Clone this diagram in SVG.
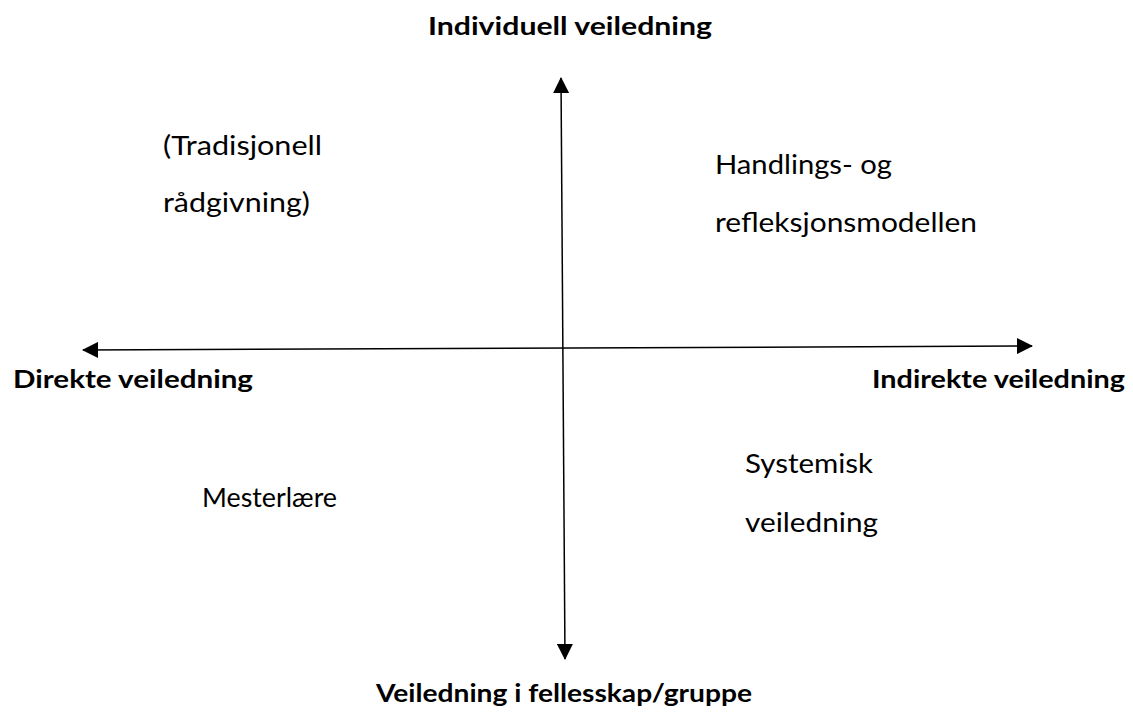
<svg xmlns="http://www.w3.org/2000/svg" width="1133" height="713" viewBox="0 0 1133 713">
<style>
.b{font-family:Lato,"Open Sans","Liberation Sans",sans-serif;font-weight:bold;font-size:25px;fill:#000}
.r{font-family:Lato,"Open Sans","Liberation Sans",sans-serif;font-size:26.5px;fill:#000}
.ax{stroke:#000;stroke-width:1.5;fill:none}
</style>
<defs>
<marker id="ah" viewBox="0 0 16 16" refX="15" refY="8" markerWidth="16" markerHeight="16" markerUnits="userSpaceOnUse" orient="auto-start-reverse">
<path d="M0,0 L16,8 L0,16 Z" fill="#000"/>
</marker>
</defs>
<rect width="1133" height="713" fill="#fff"/>
<g id="connectors">
<line class="ax" x1="561" y1="78" x2="565" y2="659" marker-start="url(#ah)" marker-end="url(#ah)"/>
<line class="ax" x1="83" y1="350" x2="1032" y2="346" marker-start="url(#ah)" marker-end="url(#ah)"/>
</g>
<g id="top"><text class="b" x="428" y="35" textLength="284" lengthAdjust="spacingAndGlyphs">Individuell veiledning</text></g>
<g id="left"><text class="b" x="13" y="388" textLength="240" lengthAdjust="spacingAndGlyphs">Direkte veiledning</text></g>
<g id="right"><text class="b" x="872" y="388" textLength="253" lengthAdjust="spacingAndGlyphs">Indirekte veiledning</text></g>
<g id="bottom"><text class="b" x="376" y="702" textLength="376" lengthAdjust="spacingAndGlyphs">Veiledning i fellesskap/gruppe</text></g>
<g id="q1">
<text class="r" x="163" y="155" textLength="159" lengthAdjust="spacingAndGlyphs">(Tradisjonell</text>
<text class="r" x="163" y="212" textLength="147" lengthAdjust="spacingAndGlyphs">rådgivning)</text>
</g>
<g id="q2">
<text class="r" x="715" y="174" textLength="177" lengthAdjust="spacingAndGlyphs">Handlings- og</text>
<text class="r" x="715" y="232" textLength="262" lengthAdjust="spacingAndGlyphs">refleksjonsmodellen</text>
</g>
<g id="q3"><text class="r" x="202" y="507" textLength="135" lengthAdjust="spacingAndGlyphs">Mesterlære</text></g>
<g id="q4">
<text class="r" x="745" y="473" textLength="128" lengthAdjust="spacingAndGlyphs">Systemisk</text>
<text class="r" x="745" y="532" textLength="133" lengthAdjust="spacingAndGlyphs">veiledning</text>
</g>
</svg>
